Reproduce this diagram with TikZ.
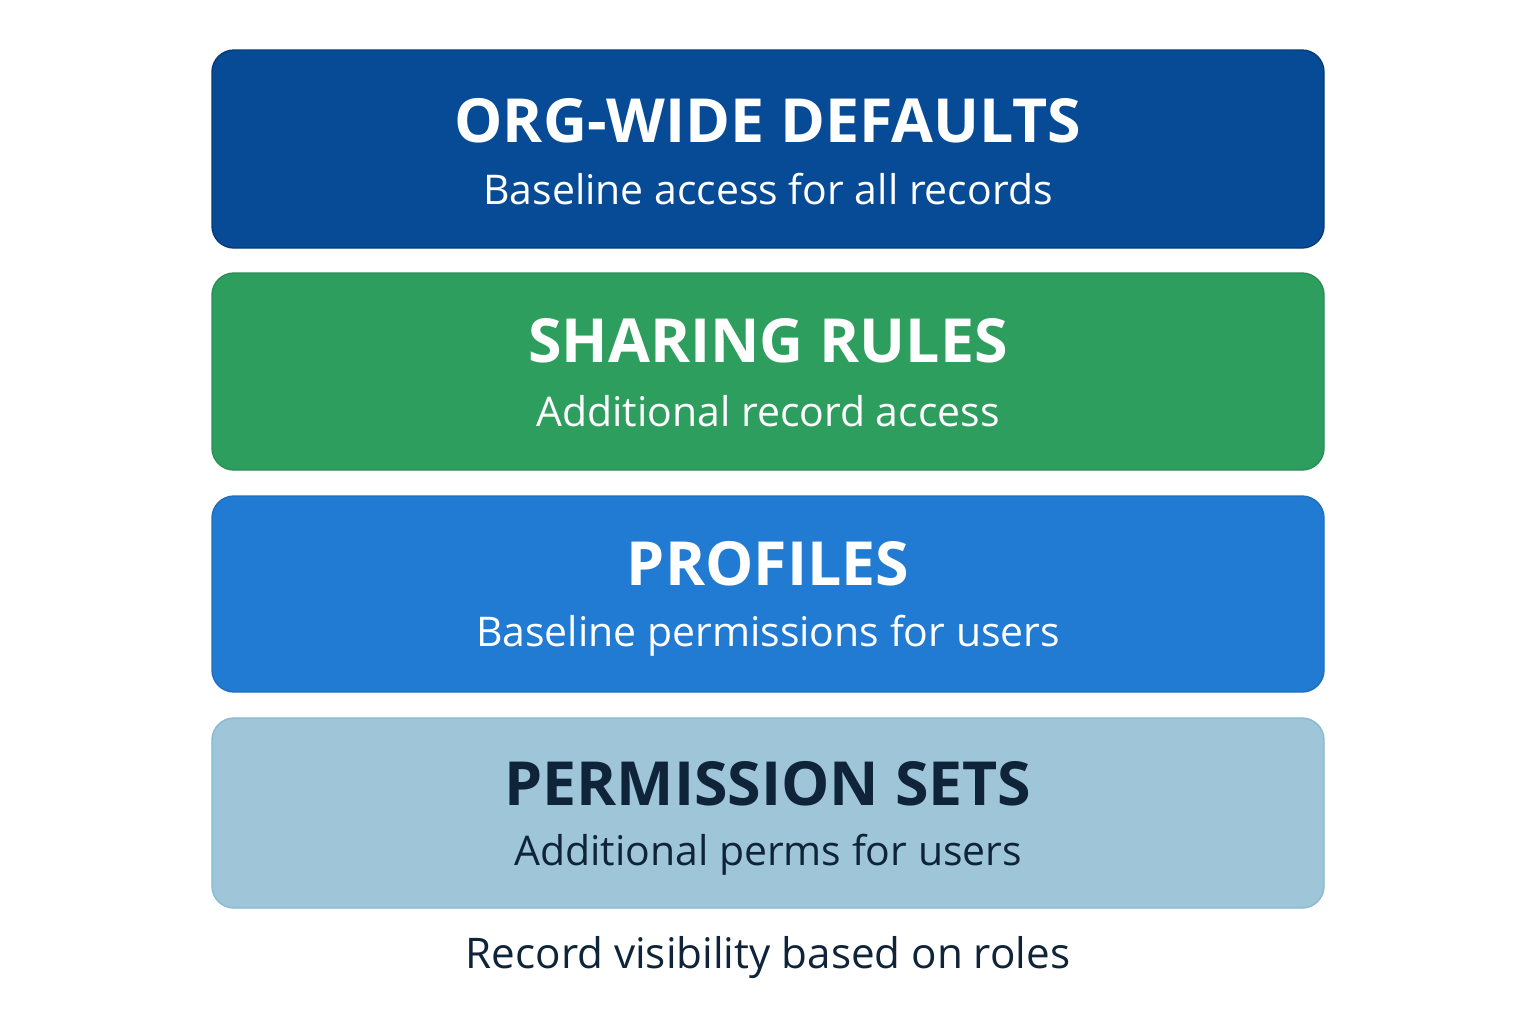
\documentclass[tikz,border=0pt]{standalone}
\usepackage{fontspec}
\setmainfont{Open Sans}
\usepackage{xcolor}
\usepackage{tikz}
\usetikzlibrary{positioning}

\definecolor{odwblue}{HTML}{074A96}
\definecolor{rulegreen}{HTML}{2E9E5F}
\definecolor{profblue}{HTML}{217BD2}
\definecolor{permsky}{HTML}{9FC5D8}
\definecolor{permedge}{HTML}{86B9D2}
\definecolor{inkdark}{HTML}{0F2438}

\begin{document}
\begin{tikzpicture}[
    layer/.style={rounded corners=0.22cm, minimum width=11.12cm, inner sep=0pt},
    headline/.style={anchor=base, font=\fontsize{17.3}{20}\selectfont\bfseries},
    subline/.style={anchor=base, font=\fontsize{11.65}{14}\selectfont}
  ]
  \useasboundingbox[fill=white] (0,0) rectangle (15.36,-10.24);
  % stacked layers, top to bottom
  \node[layer, fill=odwblue, draw=odwblue!80!black, minimum height=1.98cm] (odw) at (7.68,-1.49) {};
  \node[layer, fill=rulegreen, draw=rulegreen!90!black, minimum height=1.97cm] (rules) at (7.68,-3.715) {};
  \node[layer, fill=profblue, draw=profblue!90!black, minimum height=1.96cm] (prof) at (7.68,-5.94) {};
  \node[layer, fill=permsky, draw=permedge, minimum height=1.90cm] (perm) at (7.68,-8.13) {};
  % titles and descriptions
  \node[headline, text=white] (odwtitle) at (7.68,-1.42) {ORG-WIDE DEFAULTS};
  \node[subline, text=white] (odwtext) at (7.68,-2.04) {Baseline access for all records};
  \node[headline, text=white] (rulestitle) at (7.68,-3.62) {SHARING RULES};
  \node[subline, text=white] (rulestext) at (7.68,-4.26) {Additional record access};
  \node[headline, text=white] (proftitle) at (7.68,-5.85) {PROFILES};
  \node[subline, text=white] (proftext) at (7.68,-6.46) {Baseline permissions for users};
  \node[headline, text=inkdark] (permtitle) at (7.68,-8.05) {PERMISSION SETS};
  \node[subline, text=inkdark] (permtext) at (7.68,-8.65) {Additional perms for users};
  % caption under the stack
  \node[subline, font=\fontsize{12}{14}\selectfont, text=inkdark] (caption) at (7.68,-9.68) {Record visibility based on roles};
\end{tikzpicture}
\end{document}
